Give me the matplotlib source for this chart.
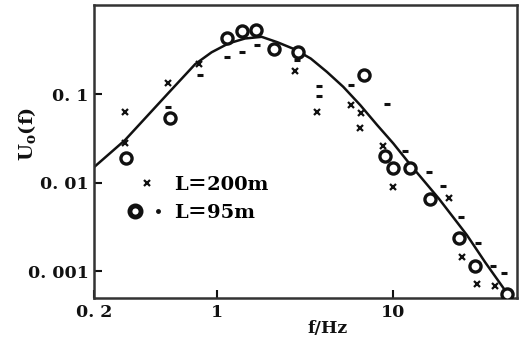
import numpy as np
import matplotlib.pyplot as plt
from matplotlib.lines import Line2D
from matplotlib.legend_handler import HandlerTuple

# Fitted spectrum curve
curve_f = [0.2, 0.3, 0.527, 0.75, 0.93, 1.16, 1.44, 1.79, 2.2, 2.75, 3.4,
           4.2, 5.2, 6.5, 8.1, 10.0, 12.5, 18.1, 26.2, 33.3, 44.3]
curve_u = [0.015, 0.0304, 0.103, 0.22, 0.30, 0.378, 0.43, 0.449, 0.39, 0.325,
           0.255, 0.18, 0.122, 0.0756, 0.045, 0.0279, 0.016, 0.00665, 0.00255,
           0.00125, 0.00056]

# L = 200 m (crosses)
l200_f = [0.30, 0.30, 0.527, 0.79, 2.77, 3.71, 5.75, 6.55, 6.44, 8.8, 9.96,
          20.6, 24.6, 29.9, 38.0]
l200_u = [0.063, 0.0279, 0.133, 0.221, 0.182, 0.063, 0.0764, 0.0615, 0.0417,
          0.0258, 0.0089, 0.00673, 0.00144, 0.00071, 0.00068]

# L = 95 m (open circles)
l95c_f = [0.304, 0.541, 1.14, 1.39, 1.67, 2.11, 2.89, 6.84, 9.0, 10.0, 12.4,
          16.1, 23.5, 29.2, 44.3]
l95c_u = [0.0189, 0.0536, 0.43, 0.528, 0.542, 0.331, 0.306, 0.167, 0.020,
          0.0145, 0.0145, 0.0065, 0.00238, 0.00114, 0.000546]

# L = 95 m (small dots)
l95d_f = [0.527, 0.80, 1.14, 1.38, 1.68, 2.84, 3.77, 3.77, 5.75, 9.2, 11.7,
          15.9, 19.2, 24.3, 30.1, 36.9, 42.7]
l95d_u = [0.0713, 0.164, 0.262, 0.301, 0.365, 0.247, 0.123, 0.095, 0.129,
          0.078, 0.0227, 0.0132, 0.0091, 0.0041, 0.00206, 0.00114, 0.00096]

labels = ["L\uff1d200m", "L\uff1d95m"]
xticks = [0.2, 1, 10]
xticklabels = ["0. 2", "1", "10"]
yticks = [0.001, 0.01, 0.1]
yticklabels = ["0. 001", "0. 01", "0. 1"]

plt.rcParams["font.family"] = ["DejaVu Serif", "Noto Sans CJK SC"]
ink = "#111111"

fig = plt.figure(figsize=(5.23, 3.39), dpi=100)
ax = fig.add_axes([94 / 523, 41 / 339, 423 / 523, 293 / 339])

ax.plot(curve_f, curve_u, color=ink, lw=1.8, zorder=2)
ax.plot(l200_f, l200_u, ls="none", marker="x", ms=4.5, mew=1.6, color=ink, zorder=3)
ax.plot(l95c_f, l95c_u, ls="none", marker="o", ms=8, mew=2.4, mfc="white",
        mec=ink, zorder=4)
ax.plot(l95d_f, l95d_u, ls="none", marker="_", ms=5, mew=2.2, color=ink, zorder=3)

ax.set_xscale("log")
ax.set_yscale("log")
ax.set_xlim(0.2, 50.4)
ax.set_ylim(4.95e-4, 1.03)
ax.minorticks_off()
ax.set_xticks(xticks)
ax.set_xticklabels(xticklabels)
ax.set_yticks(yticks)
ax.set_yticklabels(yticklabels)
ax.tick_params(direction="in", length=6, width=1.5, color=ink, labelcolor=ink,
               labelsize=12.5, pad=4)
for lab in ax.get_xticklabels() + ax.get_yticklabels():
    lab.set_fontweight("bold")
for sp in ax.spines.values():
    sp.set_linewidth(1.8)
    sp.set_color("#333333")

ax.set_xlabel("f/Hz", fontsize=12.5, fontweight="bold", color=ink)
ax.xaxis.set_label_coords((328 - 94) / 423, -0.075)
ax.set_ylabel(r"U$_\mathregular{o}$(f)", fontsize=14, fontweight="bold", color=ink)
ax.yaxis.set_label_coords(-0.13, 0.56)

h200 = Line2D([], [], ls="none", marker="x", ms=4.5, mew=1.6, color=ink)
hcirc = Line2D([], [], ls="none", marker="o", ms=8, mew=3.5, mfc="white", mec=ink)
hdot = Line2D([], [], ls="none", marker="o", ms=2.5, color=ink)
ax.legend([h200, (hcirc, hdot)], labels,
          handler_map={tuple: HandlerTuple(ndivide=None, pad=0.41)},
          loc="upper left", bbox_to_anchor=(0.08, 0.418), frameon=False,
          prop={"size": 14, "weight": "bold"}, handlelength=1.96,
          handletextpad=0.4, labelspacing=0.52, borderpad=0, borderaxespad=0)

fig.savefig("out.png", dpi=100)
